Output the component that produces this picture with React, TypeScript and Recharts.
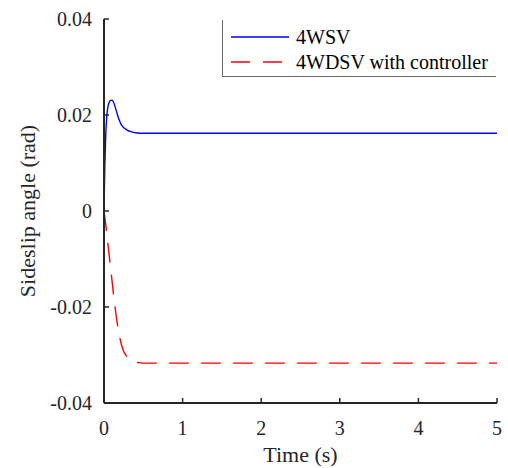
import React from 'react';
import { LineChart, Line, XAxis, YAxis, Legend } from 'recharts';

const time = [0, 0.01, 0.02, 0.03, 0.04, 0.05, 0.06, 0.08, 0.1, 0.12, 0.14, 0.16, 0.18, 0.2, 0.22, 0.25, 0.28, 0.3, 0.35, 0.4, 0.45, 0.5, 0.6, 0.8, 1, 2, 3, 4, 5];
const fourWSV = [0, 0.009, 0.0149, 0.0184, 0.0205, 0.0217, 0.0224, 0.023, 0.0231, 0.0227, 0.0218, 0.0207, 0.0196, 0.0187, 0.018, 0.0174, 0.017, 0.0168, 0.0165, 0.0163, 0.0162, 0.0162, 0.0162, 0.0162, 0.0162, 0.0162, 0.0162, 0.0162, 0.0162];
const fourWDSV = [0, -0.0012, -0.0025, -0.0039, -0.0053, -0.0068, -0.0083, -0.0113, -0.0142, -0.0172, -0.0199, -0.0224, -0.0245, -0.0263, -0.0277, -0.0292, -0.0301, -0.0305, -0.0312, -0.0315, -0.0316, -0.0317, -0.0317, -0.0317, -0.0317, -0.0317, -0.0317, -0.0317, -0.0317];
const xTicks = [0, 1, 2, 3, 4, 5];
const yTicks = [-0.04, -0.02, 0, 0.02, 0.04];
const seriesNames = ['4WSV', '4WDSV with controller'];

const data = time.map((t, i) => ({ t, a: fourWSV[i], b: fourWDSV[i] }));

const FONT = 'Liberation Serif';
const AX = '#262626';

const LegendBox = () => (
  <div
    style={{
      background: '#fff',
      border: '1px solid #6a6a6a',
      borderRight: 'none',
      borderTop: 'none',
      width: 274,
      height: 57,
      boxSizing: 'border-box',
      fontFamily: FONT,
      fontSize: 20,
      color: '#000',
      position: 'relative',
    }}
  >
    <div style={{ position: 'absolute', left: 8, top: 5, display: 'flex', alignItems: 'center', height: 24 }}>
      <svg width={58} height={4} style={{ display: 'block' }}>
        <line x1={0} y1={2} x2={58} y2={2} stroke="#0000ff" strokeWidth={1.4} />
      </svg>
      <span style={{ marginLeft: 7, lineHeight: '24px' }}>{seriesNames[0]}</span>
    </div>
    <div style={{ position: 'absolute', left: 8, top: 30, display: 'flex', alignItems: 'center', height: 24 }}>
      <svg width={58} height={4} style={{ display: 'block' }}>
        <line x1={0} y1={2} x2={58} y2={2} stroke="#ff0000" strokeWidth={1.4} strokeDasharray="19 13" />
      </svg>
      <span style={{ marginLeft: 7, lineHeight: '24px' }}>{seriesNames[1]}</span>
    </div>
  </div>
);

const axisLineStyle = { stroke: AX, strokeWidth: 2 };
const tickLineStyle = { stroke: AX, strokeWidth: 1.5 };

export default function App() {
  return (
    <div style={{ position: 'absolute', left: 0, top: 0, width: 508, height: 468, background: '#fff', fontFamily: FONT }}>
      <LineChart width={508} height={468} data={data} margin={{ top: 19, right: 11, bottom: 35, left: 4 }} style={{ fontFamily: FONT }}>
        <XAxis
          xAxisId="b"
          dataKey="t"
          type="number"
          domain={[0, 5]}
          ticks={xTicks}
          allowDataOverflow
          height={30}
          tickSize={-5}
          tickMargin={23}
          stroke={AX}
          axisLine={axisLineStyle}
          tickLine={tickLineStyle}
          tick={{ fill: AX, fontFamily: FONT, fontSize: 20 }}
          label={{ value: 'Time (s)', position: 'bottom', offset: 13, fill: AX, fontFamily: FONT, fontSize: 22 }}
        />
        <XAxis
          xAxisId="t"
          orientation="top"
          dataKey="t"
          type="number"
          domain={[0, 5]}
          ticks={xTicks}
          allowDataOverflow
          height={0}
          tickSize={-5}
          stroke={AX}
          axisLine={axisLineStyle}
          tickLine={tickLineStyle}
          tick={false}
        />
        <YAxis
          yAxisId="l"
          type="number"
          domain={[-0.04, 0.04]}
          ticks={yTicks}
          allowDataOverflow
          width={100}
          tickSize={-5}
          tickMargin={17}
          stroke={AX}
          tickFormatter={(v: number) => String(v)}
          axisLine={axisLineStyle}
          tickLine={tickLineStyle}
          tick={{ fill: AX, fontFamily: FONT, fontSize: 20 }}
          label={{ value: 'Sideslip angle (rad)', angle: -90, position: 'insideLeft', offset: 23, fill: AX, fontFamily: FONT, fontSize: 22, style: { textAnchor: 'middle' } }}
        />
        <YAxis
          yAxisId="r"
          orientation="right"
          type="number"
          domain={[-0.04, 0.04]}
          ticks={yTicks}
          allowDataOverflow
          width={0}
          tickSize={-5}
          stroke={AX}
          axisLine={axisLineStyle}
          tickLine={tickLineStyle}
          tick={false}
        />
        <Line
          xAxisId="b"
          yAxisId="l"
          type="monotone"
          dataKey="a"
          name={seriesNames[0]}
          stroke="#0000ff"
          strokeWidth={1.4}
          dot={false}
          isAnimationActive={false}
        />
        <Line
          xAxisId="b"
          yAxisId="l"
          type="monotone"
          dataKey="b"
          name={seriesNames[1]}
          stroke="#ff0000"
          strokeWidth={1.4}
          strokeDasharray="20 12"
          dot={false}
          isAnimationActive={false}
        />
        <Legend
          layout="vertical"
          verticalAlign="middle"
          align="center"
          content={() => <LegendBox />}
          wrapperStyle={{ left: 222, top: 20, width: 274, height: 57 }}
        />
      </LineChart>
    </div>
  );
}
